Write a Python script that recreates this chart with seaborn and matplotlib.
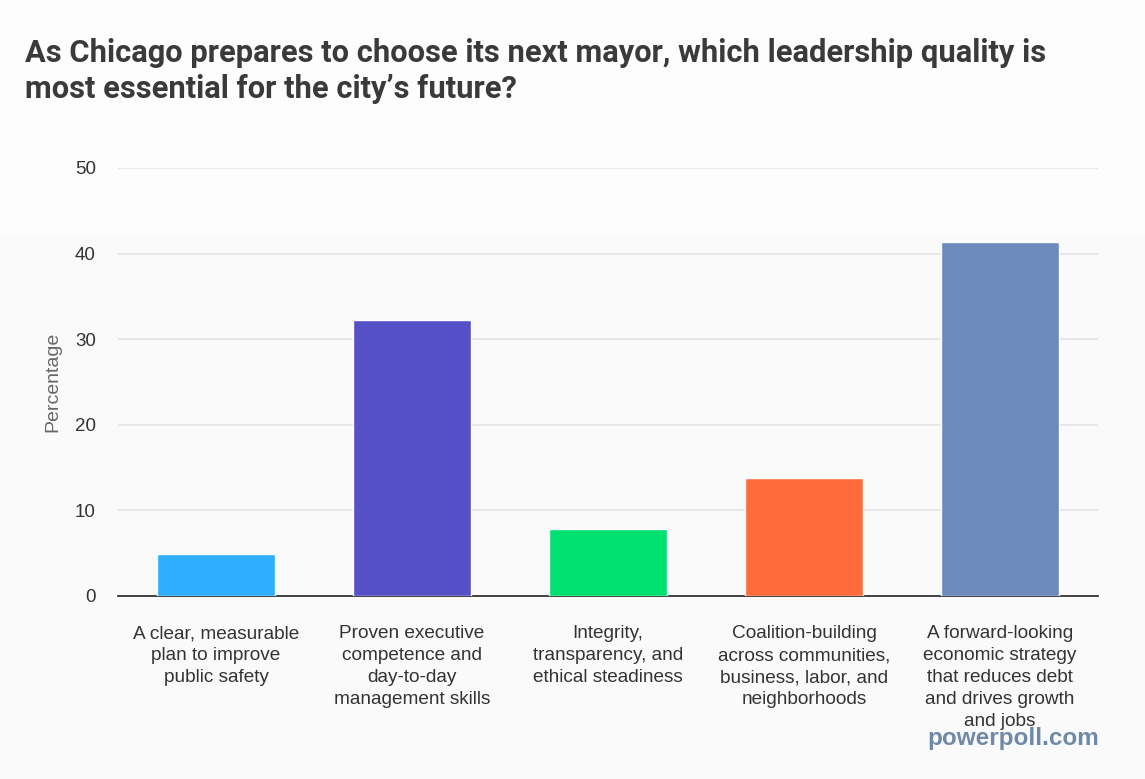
import matplotlib
matplotlib.use("Agg")
import matplotlib.pyplot as plt
import seaborn as sns
import pandas as pd

categories = [
    "A clear, measurable\nplan to improve\npublic safety",
    "Proven executive\ncompetence and\nday-to-day\nmanagement skills",
    "Integrity,\ntransparency, and\nethical steadiness",
    "Coalition-building\nacross communities,\nbusiness, labor, and\nneighborhoods",
    "A forward-looking\neconomic strategy\nthat reduces debt\nand drives growth\nand jobs",
]
values = [4.9, 32.3, 7.8, 13.8, 41.3]
colors = ["#2eaefc", "#5650c6", "#00e070", "#ff6b3a", "#6a8bbb"]

title = ("As Chicago prepares to choose its next mayor, which leadership quality is\n"
         "most essential for the city\u2019s future?")

sns.set_theme(style="white")
plt.rcParams['font.family'] = ['Liberation Sans', 'DejaVu Sans']

df = pd.DataFrame({"quality": categories, "pct": values})

fig = plt.figure(figsize=(11.45, 7.79), dpi=100, facecolor="#fafafa")
# lighter band at the top of the card
fig.patches.append(plt.Rectangle((0, 1 - 235 / 779), 1, 235 / 779,
                                 transform=fig.transFigure, color="#fdfdfd",
                                 zorder=-1))
ax = fig.add_axes([118 / 1145, 1 - 596 / 779, 980 / 1145, 428 / 779])
ax.set_facecolor("none")

sns.barplot(data=df, x="quality", y="pct", hue="quality", palette=colors,
            width=0.6, saturation=1, legend=False, ax=ax, zorder=3)

ax.set_ylim(0, 50)
ax.set_xlim(-0.5, 4.5)
ax.set_yticks([0, 10, 20, 30, 40, 50])
ax.set_xticks(range(len(categories)), labels=categories, linespacing=1.38)
ax.grid(axis="y", color="#e4e4e4", linewidth=1.2, zorder=0)
for s in ["top", "right", "left"]:
    ax.spines[s].set_visible(False)
ax.spines["bottom"].set_color("#333333")
ax.spines["bottom"].set_linewidth(1.3)
ax.tick_params(axis="y", length=0, pad=16, labelsize=13.5, labelcolor="#333333")
ax.tick_params(axis="x", length=0, pad=21, labelsize=13.7, labelcolor="#333333")
ax.set_xlabel("")
ax.set_ylabel("Percentage", fontsize=14, color="#666666", labelpad=10)

fig.text(25 / 1145, 1 - 38 / 779, title, fontsize=22.2, fontweight="bold",
         color="#3a3a3a", va="top", ha="left", linespacing=1.25,
         family=["Roboto", "DejaVu Sans"])
fig.text(1013 / 1145, 1 - 738 / 779, "powerpoll.com", fontsize=17.5,
         fontweight="bold", color="#6f8aa8", ha="center", va="center")

fig.savefig("out.png", dpi=100, facecolor=fig.get_facecolor())
